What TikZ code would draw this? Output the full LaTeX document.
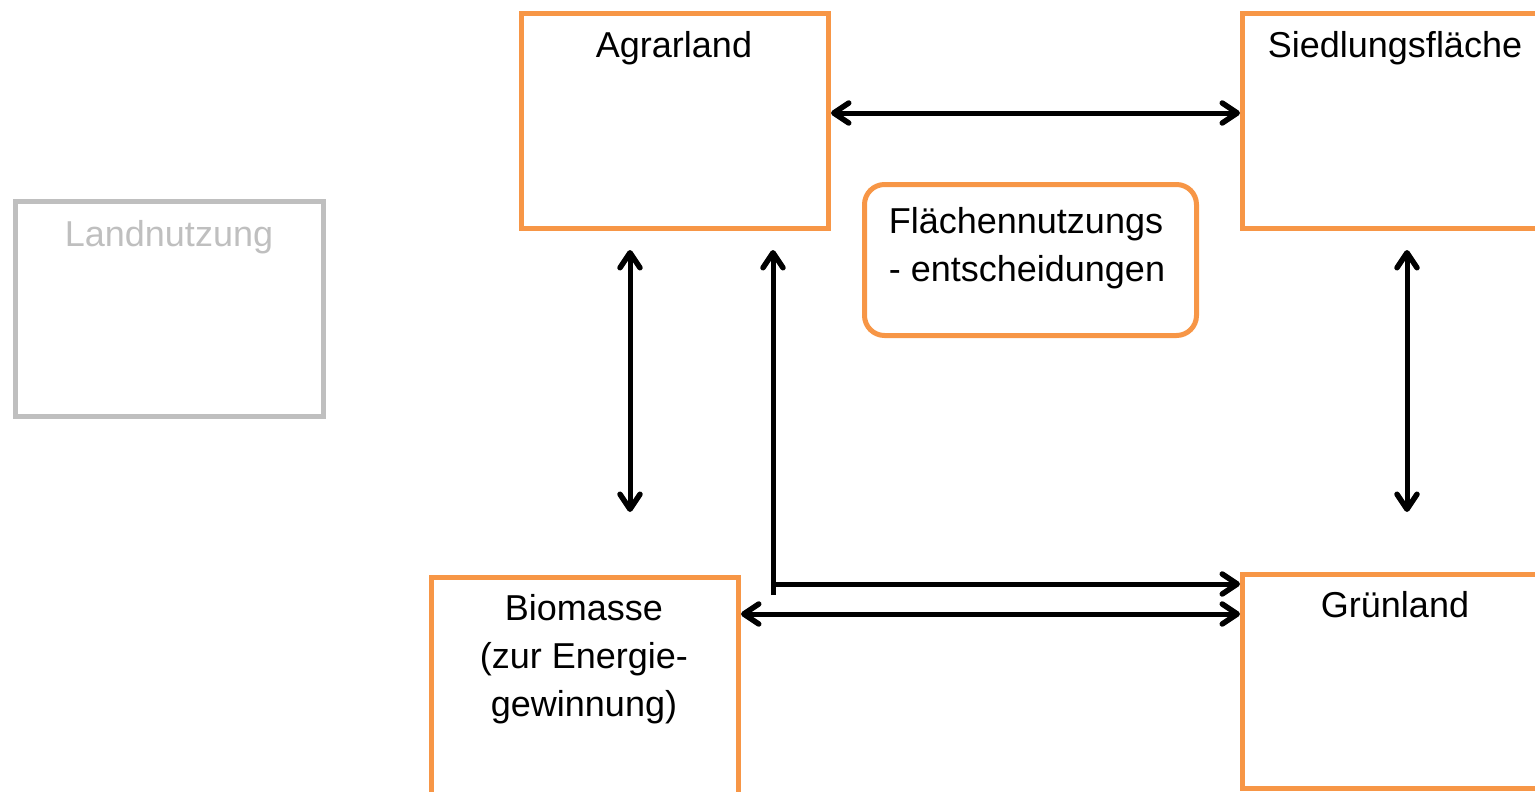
\documentclass[tikz,border=0pt]{standalone}
\usepackage{fontspec}
\setmainfont{Liberation Sans}
\usetikzlibrary{arrows.meta}
\definecolor{boxorange}{HTML}{F79646}
\definecolor{boxgray}{HTML}{BFBFBF}
\begin{document}
\begin{tikzpicture}[x=1pt,y=-1pt,
  box/.style={draw=boxorange,line width=5pt,rectangle,inner sep=0pt,anchor=north west},
  graybox/.style={draw=boxgray,line width=5pt,rectangle,inner sep=0pt,anchor=north west},
  lbl/.style={font=\fontsize{36}{48}\selectfont,align=center,inner sep=0pt,anchor=north},
  link/.style={line width=5pt,draw=black},
  barb/.tip={Straight Barb[length=15pt,width=20pt,line width=5.5pt,round]}]
\useasboundingbox (0,0) rectangle (1535,792);
\clip (0,0) rectangle (1535,792);
% boxes (anchor on the outer edge of the stroke)
\node[graybox,minimum width=308pt,minimum height=215pt] (land) at (13,199) {};
\node[box,minimum width=307pt,minimum height=215pt] (agrar) at (519,11) {};
\node[box,minimum width=308pt,minimum height=215pt] (sied) at (1240,11) {};
\node[box,minimum width=307pt,minimum height=240pt] (bio) at (429,575) {};
\node[box,minimum width=308pt,minimum height=214pt] (gruen) at (1240,572) {};
\node[draw=boxorange,line width=5pt,rounded corners=20pt,inner sep=0pt,anchor=north west,
      minimum width=332pt,minimum height=151pt] (flaeche) at (862,182) {};
% labels
\node[lbl,text=boxgray] (landT) at (169,220) {Landnutzung};
\node[lbl] (agrarT) at (674,31) {Agrarland};
\node[lbl] (siedT) at (1395,31) {Siedlungsfläche};
\node[lbl] (bioT) at (584,594) {Biomasse\\(zur Energie-\\gewinnung)};
\node[lbl] (gruenT) at (1395,591) {Grünland};
\node[lbl,align=left] (flaecheT) at (1027,207) {Flächennutzungs\\- entscheidungen};
% free arrow ends
\coordinate (a1) at (630,250);
\coordinate (b1) at (630,512);
\coordinate (a2) at (773,250);
\coordinate (b2) at (773,595);
\coordinate (c2) at (773,584);
\coordinate (a3) at (1407,250);
\coordinate (b3) at (1407,512);
% connectors
\draw[link,barb-barb] (agrar.east |- 0,113) -- (sied.west |- 0,113);
\draw[link,barb-barb] (a1) -- (b1);
\draw[link,-barb] (b2) -- (a2);
\draw[link,-barb] (c2) -- (gruen.west |- 0,584);
\draw[link,barb-barb] (bio.east |- 0,614) -- (gruen.west |- 0,614);
\draw[link,barb-barb] (a3) -- (b3);
\end{tikzpicture}
\end{document}
